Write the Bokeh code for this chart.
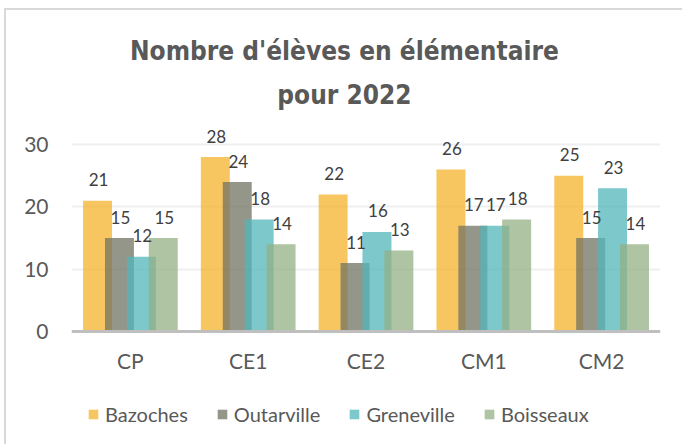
from bokeh.plotting import figure
from bokeh.models import (ColumnDataSource, Range1d, FixedTicker, Legend, LegendItem, Label)
from bokeh.core.properties import value
from bokeh.embed import file_html
from bokeh.resources import INLINE

categories = ["CP", "CE1", "CE2", "CM1", "CM2"]
series_names = ["Bazoches", "Outarville", "Greneville", "Boisseaux"]
bazoches = [21, 28, 22, 26, 25]
outarville = [15, 24, 11, 17, 15]
greneville = [12, 18, 16, 17, 23]
boisseaux = [15, 14, 13, 18, 14]
series_values = [bazoches, outarville, greneville, boisseaux]
colors = ["#F6B32C", "#727363", "#52B6BA", "#93B084"]
y_ticks = [0, 10, 20, 30]
title_lines = ["Nombre d'élèves en élémentaire", "pour 2022"]

LABEL_FONT = "Lato"
TITLE_FONT = "DejaVu Sans Condensed"
GREY = "#595959"

p = figure(frame_width=589, frame_height=428, output_backend="svg", toolbar_location=None,
           x_range=Range1d(0, len(categories)), y_range=Range1d(-17.47, 51.2),
           min_border_left=65, min_border_right=22, min_border_top=2,
           min_border_bottom=4)
p.margin = (8, 0, 0, 4)
p.outline_line_color = None
p.background_fill_color = "white"
p.border_fill_color = "white"
p.styles = {"border-top": "2px solid #d9d9d9", "border-left": "2px solid #d9d9d9"}

# title (two lines, centred on the chart area)
for txt, ty in zip(title_lines, [45.1, 38.0]):
    p.add_layout(Label(x=2.317, y=ty, text=txt, text_align="center",
                       text_baseline="middle", text_font=TITLE_FONT,
                       text_font_size="26px", text_font_style="bold",
                       text_color=GREY))

width = 0.246
step = 0.186
items = []
for k, (name, vals, col) in enumerate(zip(series_names, series_values, colors)):
    xs = [i + 0.5 + (k - 1.5) * step for i in range(len(categories))]
    src = ColumnDataSource(dict(x=xs, top=vals, lab=[str(v) for v in vals]))
    r = p.vbar(x="x", top="top", width=width, source=src, fill_color=col,
               fill_alpha=0.75, line_color=None)
    items.append(LegendItem(label=name, renderers=[r]))
for k, (name, vals, col) in enumerate(zip(series_names, series_values, colors)):
    xs = [i + 0.5 + (k - 1.5) * step for i in range(len(categories))]
    src = ColumnDataSource(dict(x=xs, top=vals, lab=[str(v) for v in vals]))
    p.text(x="x", y="top", text="lab", source=src, text_align="center",
           text_baseline="middle", y_offset=-21, x_offset=1,
           text_font=value(LABEL_FONT), text_font_size="17px", text_color="#404040")

# grid
p.xgrid.visible = False
p.ygrid.ticker = FixedTicker(ticks=[10, 20, 30])
p.ygrid.grid_line_color = "#efefef"
p.ygrid.grid_line_width = 2

# y axis
p.yaxis.ticker = FixedTicker(ticks=y_ticks)
p.yaxis.axis_line_color = None
p.yaxis.major_tick_line_color = None
p.yaxis.minor_tick_line_color = None
p.yaxis.major_tick_out = 0
p.yaxis.major_tick_in = 0
p.yaxis.major_label_standoff = 23
p.yaxis.major_label_text_font = LABEL_FONT
p.yaxis.major_label_text_font_size = "21px"
p.yaxis.major_label_text_color = GREY

# x axis drawn at y = 0
p.xaxis.fixed_location = 0
p.xaxis.ticker = FixedTicker(ticks=[i + 0.5 for i in range(len(categories))])
p.xaxis.major_label_overrides = {i + 0.5: c for i, c in enumerate(categories)}
p.xaxis.axis_line_color = "#bfbfbf"
p.xaxis.axis_line_width = 3
p.xaxis.major_tick_line_color = None
p.xaxis.minor_tick_line_color = None
p.xaxis.major_tick_out = 0
p.xaxis.major_tick_in = 0
p.xaxis.major_label_standoff = 16
p.xaxis.major_label_text_font = LABEL_FONT
p.xaxis.major_label_text_font_size = "21px"
p.xaxis.major_label_text_color = GREY

legend = Legend(items=items, orientation="horizontal", location=(16, 14),
                label_text_font=LABEL_FONT, label_text_font_size="20px",
                label_text_color=GREY, glyph_width=12, glyph_height=12,
                label_standoff=6, spacing=28, border_line_color=None,
                background_fill_alpha=0, margin=0, padding=1)
p.add_layout(legend, "center")

open("out.html", "w").write(file_html(p, INLINE))
